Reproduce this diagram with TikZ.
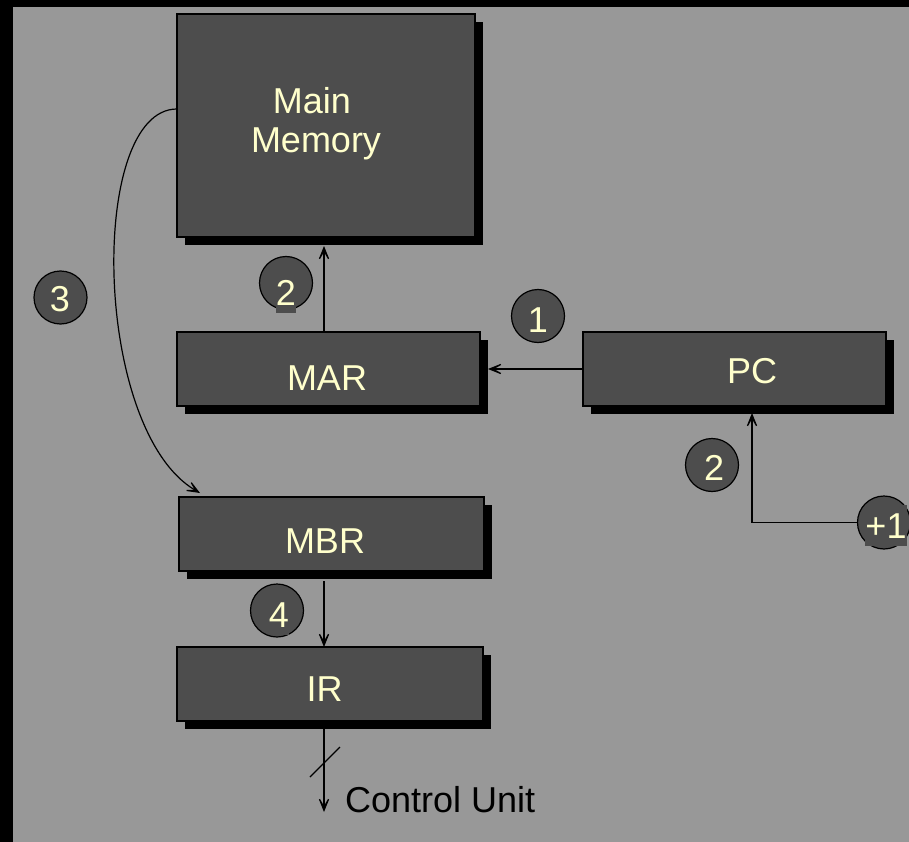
\documentclass[tikz,border=0pt]{standalone}
\usepackage{fontspec}
\setmainfont{Liberation Sans}
\usetikzlibrary{arrows.meta,shadows}

\definecolor{panel}{RGB}{152,152,152}
\definecolor{boxfill}{RGB}{77,77,77}
\definecolor{labeltext}{RGB}{255,255,204}

\tikzset{
  regbox/.style={rectangle, draw=black, line width=1.2pt, fill=boxfill,
    inner sep=0pt, outer sep=0pt,
    drop shadow={shadow xshift=8pt, shadow yshift=-8pt, fill=black, opacity=1}},
  regtext/.style={text=labeltext, font=\fontsize{36}{41}\selectfont,
    inner sep=0pt, anchor=base},
  stepcircle/.style={circle, draw=black, line width=1.2pt, fill=boxfill,
    minimum size=53pt, inner sep=0pt},
  stepnum/.style={text=labeltext, font=\fontsize{36}{41}\selectfont,
    fill=boxfill, inner sep=0pt, text height=33pt, text depth=8pt, anchor=base},
  arr/.style={-{Stealth[length=21pt,width=17pt,inset=15pt]}, line width=1.2pt},
  wire/.style={line width=1.2pt},
}

\begin{document}
\begin{tikzpicture}[x=1pt,y=-1pt]
  \useasboundingbox (0,0) rectangle (909,842);
  \clip (0,0) rectangle (909,842);
  % frame and panel
  \fill[black] (0,0) rectangle (909,842);
  \fill[panel] (13,7) rectangle (909,842);

  % registers and memory
  \node[regbox, minimum width=298pt, minimum height=223pt] (mm)  at (326,125.5) {};
  \node[regbox, minimum width=303pt, minimum height=74pt]  (mar) at (328.5,369) {};
  \node[regbox, minimum width=303pt, minimum height=74pt]  (pc)  at (734.5,369) {};
  \node[regbox, minimum width=305pt, minimum height=74pt]  (mbr) at (331.5,534) {};
  \node[regbox, minimum width=306pt, minimum height=74pt]  (ir)  at (330,684) {};

  \node[regtext] (mmtop) at (312,114) {Main};
  \node[regtext] (mmbot) at (316,153) {Memory};
  \node[regtext] (martext) at (327,390) {MAR};
  \node[regtext] (pctext)  at (752,383) {PC};
  \node[regtext] (mbrtext) at (325,553) {MBR};
  \node[regtext] (irtext)  at (324.5,701) {IR};

  \node[anchor=base west, inner sep=0pt, font=\fontsize{36}{41}\selectfont]
    (cu) at (345,812) {Control Unit};

  % connectors
  \draw[arr] (pc.west) -- ([xshift=8pt]pc.west -| mar.east);
  \draw[arr] ([xshift=-4.5pt]mar.north) -- ([xshift=-4.5pt,yshift=-9pt]mar.north |- mm.south);
  \draw[arr] ([xshift=-7.5pt]mbr.south) ++(0,10) -- ([xshift=-6pt]ir.north);
  \coordinate (irout) at ([xshift=-6pt,yshift=-8pt]ir.south);
  \draw[arr] (irout) -- (irout |- cu.base);
  \draw[wire] ([shift={(-14,48)}]irout) -- ([shift={(16,18)}]irout);
  \draw[arr] ([yshift=16.5pt]mm.west)
     .. controls (88,109) and (92,430) .. ([xshift=21pt,yshift=4pt]mbr.north west);

  % increment path into PC
  \node[stepcircle] (cp1) at (884,522.5) {};
  \draw[arr] (cp1.west) -| ([xshift=17.5pt,yshift=-7pt]pc.south);

  % step markers
  \node[stepcircle] (c1)  at (538,316) {};
  \node[stepcircle] (c2a) at (286,283) {};
  \node[stepcircle] (c2b) at (712,465) {};
  \node[stepcircle] (c3)  at (60.5,297.5) {};
  \node[stepcircle] (c4)  at (277,610.5) {};

  \node[stepnum] (n1)  at (538,332) {1};
  \node[stepnum] (n2a) at (286,305) {2};
  \node[stepnum] (n2b) at (714,480) {2};
  \node[stepnum] (n3)  at (60,311.7) {3};
  \node[stepnum] (n4)  at (279,627) {4};
  \node[stepnum] (np1) at (886,538) {+1};
\end{tikzpicture}
\end{document}
